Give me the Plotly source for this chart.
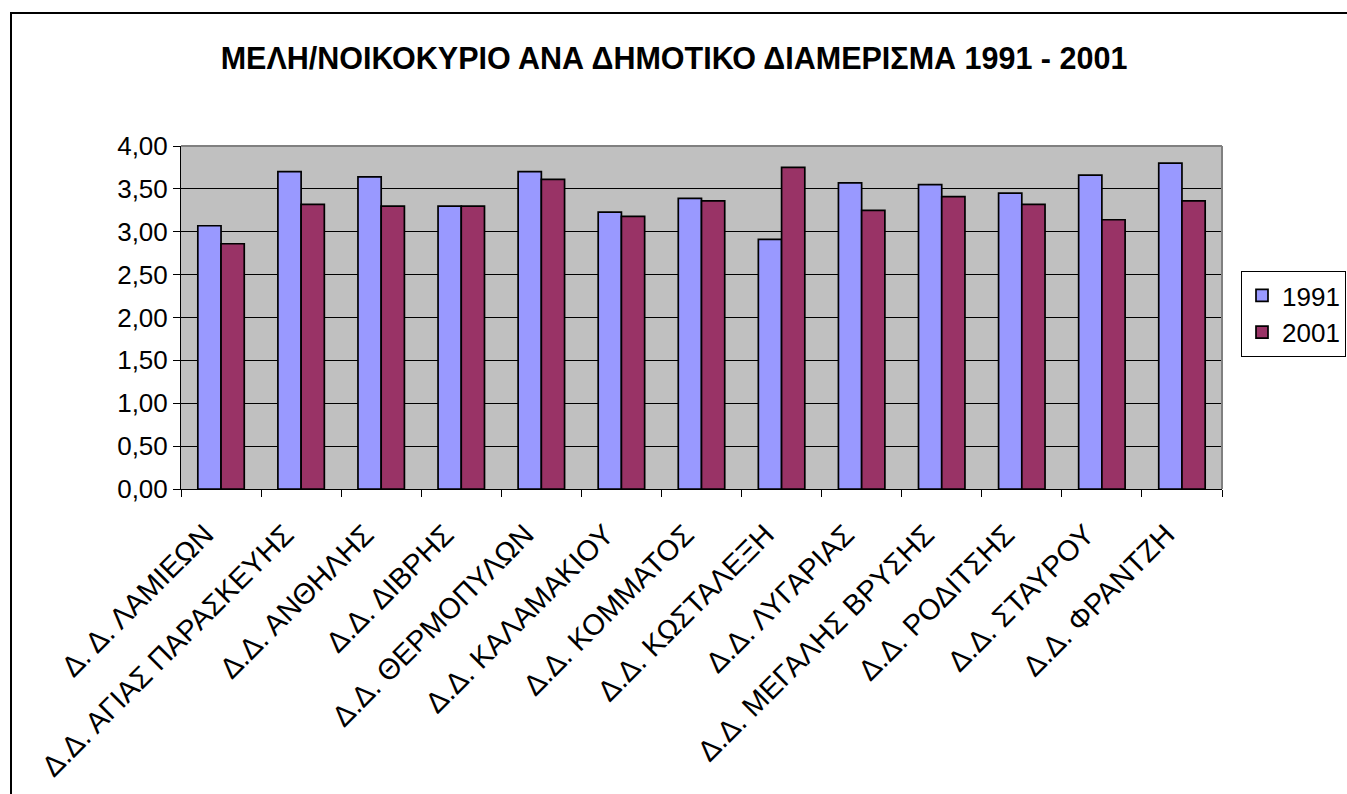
import plotly.graph_objects as go

categories = [
    "Δ. Δ. ΛΑΜΙΕΩΝ",
    "Δ.Δ. ΑΓΙΑΣ ΠΑΡΑΣΚΕΥΗΣ",
    "Δ.Δ. ΑΝΘΗΛΗΣ",
    "Δ.Δ. ΔΙΒΡΗΣ",
    "Δ.Δ. ΘΕΡΜΟΠΥΛΩΝ",
    "Δ.Δ. ΚΑΛΑΜΑΚΙΟΥ",
    "Δ.Δ. ΚΟΜΜΑΤΟΣ",
    "Δ.Δ. ΚΩΣΤΑΛΕΞΗ",
    "Δ.Δ. ΛΥΓΑΡΙΑΣ",
    "Δ.Δ. ΜΕΓΑΛΗΣ ΒΡΥΣΗΣ",
    "Δ.Δ. ΡΟΔΙΤΣΗΣ",
    "Δ.Δ. ΣΤΑΥΡΟΥ",
    "Δ.Δ. ΦΡΑΝΤΖΗ",
]
values_1991 = [3.07, 3.70, 3.64, 3.30, 3.70, 3.23, 3.39, 2.91, 3.57, 3.55, 3.45, 3.66, 3.80]
values_2001 = [2.86, 3.32, 3.30, 3.30, 3.61, 3.18, 3.36, 3.75, 3.25, 3.41, 3.32, 3.14, 3.36]
series_names = ["1991", "2001"]
y_ticks = [0, 0.5, 1.0, 1.5, 2.0, 2.5, 3.0, 3.5, 4.0]

FONT = "Arial, 'Liberation Sans', sans-serif"

W, H = 1347, 794
L, T = 181, 146
PW, PH = 1041, 343

fig = go.Figure()
fig.add_trace(go.Bar(x=categories, y=values_1991, name=series_names[0],
                     marker=dict(color="#9999FF", line=dict(color="black", width=1.7))))
fig.add_trace(go.Bar(x=categories, y=values_2001, name=series_names[1],
                     marker=dict(color="#993366", line=dict(color="black", width=1.7))))

fig.update_layout(
    width=W, height=H,
    margin=dict(l=L, r=W - L - PW, t=T, b=H - T - PH, pad=0, autoexpand=False),
    paper_bgcolor="white",
    plot_bgcolor="#C0C0C0",
    separators=",.",
    barmode="group",
    bargap=0.42,
    bargroupgap=0,
    font=dict(family=FONT, size=26, color="black"),
    title=dict(
        text="<b>ΜΕΛΗ/ΝΟΙΚΟΚΥΡΙΟ ΑΝΑ ΔΗΜΟΤΙΚΟ ΔΙΑΜΕΡΙΣΜΑ 1991 - 2001</b>",
        font=dict(family=FONT, size=30.5, color="black"),
        x=674 / W, xref="container", xanchor="center",
        y=1 - 58 / H, yref="container", yanchor="middle",
    ),
    legend=dict(
        xref="container", yref="container",
        x=1241 / W, xanchor="left", y=1 - 271 / H, yanchor="top",
        bgcolor="white", bordercolor="black", borderwidth=1,
        font=dict(family=FONT, size=26, color="black"),
        tracegroupgap=0,
    ),
    showlegend=True,
)

fig.update_yaxes(
    range=[0, 4], tickvals=y_ticks, tickformat=".2f",
    showgrid=True, gridcolor="black", gridwidth=1,
    showline=True, linecolor="black", linewidth=1,
    ticks="outside", ticklen=7, tickcolor="black", tickwidth=1,
    zeroline=False,
    tickfont=dict(family=FONT, size=26, color="black"),
)
fig.update_xaxes(
    type="category", tickangle=-45, tickson="boundaries",
    showline=True, linecolor="black", linewidth=1,
    ticks="outside", ticklen=7, tickcolor="black", tickwidth=1,
    showgrid=False,
    ticklabelshift=-16, ticklabelstandoff=16,
    tickfont=dict(family=FONT, size=29, color="black"),
)

# plot-area grey border (top and right) and outer chart frame
fig.add_shape(type="line", xref="paper", yref="paper", x0=0, x1=1, y0=1, y1=1,
              line=dict(color="#808080", width=2), layer="above")
fig.add_shape(type="line", xref="paper", yref="paper", x0=1, x1=1, y0=0, y1=1,
              line=dict(color="#808080", width=2), layer="above")
fig.add_shape(type="rect", xref="paper", yref="paper",
              x0=(11 - L) / PW, x1=(1420 - L) / PW,
              y0=(T + PH - 900) / PH, y1=(T + PH - 13) / PH,
              line=dict(color="black", width=2), fillcolor="rgba(0,0,0,0)", layer="above")

fig.write_html(
    "out.html",
    config={"displayModeBar": False},
    post_script="document.body.style.margin='0';document.body.style.overflow='hidden';",
)
